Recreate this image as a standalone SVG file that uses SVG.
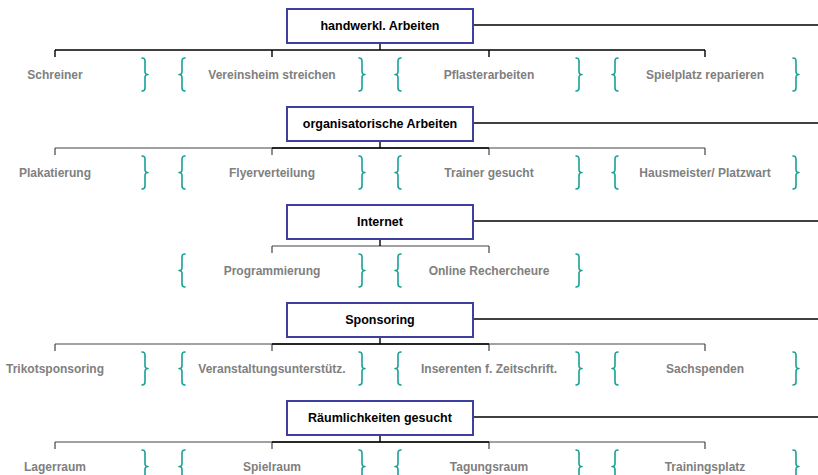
<svg xmlns="http://www.w3.org/2000/svg" width="818" height="475" viewBox="0 0 818 475">
<defs>
<style>
.box{fill:#fff;stroke:#3f3f9f;stroke-width:2}
.bt{font-family:"Liberation Sans",Arial,sans-serif;font-weight:bold;font-size:12.5px;fill:#000;text-anchor:middle}
.ct{font-family:"Liberation Sans",Arial,sans-serif;font-weight:bold;font-size:12px;fill:#808080;text-anchor:middle}
.br{fill:none;stroke:#17a096;stroke-width:1.6;stroke-linecap:round;stroke-linejoin:round}
.ln{fill:none;stroke:#444;stroke-width:1.2}
.lk{fill:none;stroke:#000;stroke-width:1.4}
</style>
<path id="rb" class="br" d="M-3,-16.5 Q0,-16.5 0,-13.5 L0,-3 Q0,0 3,0 Q0,0 0,3 L0,13.5 Q0,16.5 -3,16.5"/>
<path id="lb" class="br" d="M3,-16.5 Q0,-16.5 0,-13.5 L0,-3 Q0,0 -3,0 Q0,0 0,3 L0,13.5 Q0,16.5 3,16.5"/>
</defs>

<g id="connectors">
<line class="lk" x1="473" y1="25" x2="818" y2="25"/>
<path class="lk" d="M380,43 V50 M55,50 H705 M55,50 V57 M272,50 V57 M489,50 V57 M705,50 V57"/>
<line class="lk" x1="473" y1="123" x2="818" y2="123"/>
<path class="ln" d="M55,148 H705 M55,148 V155 M272,148 V155 M489,148 V155 M705,148 V155"/>
<path class="lk" d="M380,141 V148 M272,148 H489"/>
<line class="lk" x1="473" y1="221" x2="818" y2="221"/>
<path class="ln" d="M272,246 H489 M272,246 V253 M489,246 V253"/>
<path class="lk" d="M380,239 V246"/>
<line class="lk" x1="473" y1="319" x2="818" y2="319"/>
<path class="ln" d="M55,344 H705 M55,344 V351 M272,344 V351 M489,344 V351 M705,344 V351"/>
<path class="lk" d="M380,337 V344 M272,344 H489"/>
<line class="lk" x1="473" y1="417" x2="818" y2="417"/>
<path class="ln" d="M55,442 H705 M55,442 V449 M272,442 V449 M489,442 V449 M705,442 V449"/>
<path class="lk" d="M380,435 V442 M272,442 H489"/>
</g>

<g id="n1"><rect class="box" x="287" y="9" width="186" height="34"/><text class="bt" x="380" y="30">handwerkl. Arbeiten</text></g>
<g id="n2"><rect class="box" x="287" y="107" width="186" height="34"/><text class="bt" x="380" y="128">organisatorische Arbeiten</text></g>
<g id="n3"><rect class="box" x="287" y="205" width="186" height="34"/><text class="bt" x="380" y="226">Internet</text></g>
<g id="n4"><rect class="box" x="287" y="303" width="186" height="34"/><text class="bt" x="380" y="324">Sponsoring</text></g>
<g id="n5"><rect class="box" x="287" y="401" width="186" height="34"/><text class="bt" x="380" y="422">Räumlichkeiten gesucht</text></g>

<g id="c1a"><text class="ct" x="55" y="79">Schreiner</text><use href="#rb" x="145" y="74.5"/></g>
<g id="c1b"><use href="#lb" x="182" y="74.5"/><text class="ct" x="272" y="79">Vereinsheim streichen</text><use href="#rb" x="362" y="74.5"/></g>
<g id="c1c"><use href="#lb" x="398" y="74.5"/><text class="ct" x="489" y="79">Pflasterarbeiten</text><use href="#rb" x="579" y="74.5"/></g>
<g id="c1d"><use href="#lb" x="615" y="74.5"/><text class="ct" x="705" y="79">Spielplatz reparieren</text><use href="#rb" x="796" y="74.5"/></g>

<g id="c2a"><text class="ct" x="55" y="177">Plakatierung</text><use href="#rb" x="145" y="172.5"/></g>
<g id="c2b"><use href="#lb" x="182" y="172.5"/><text class="ct" x="272" y="177">Flyerverteilung</text><use href="#rb" x="362" y="172.5"/></g>
<g id="c2c"><use href="#lb" x="398" y="172.5"/><text class="ct" x="489" y="177">Trainer gesucht</text><use href="#rb" x="579" y="172.5"/></g>
<g id="c2d"><use href="#lb" x="615" y="172.5"/><text class="ct" x="705" y="177">Hausmeister/ Platzwart</text><use href="#rb" x="796" y="172.5"/></g>

<g id="c3a"><use href="#lb" x="182" y="270.5"/><text class="ct" x="272" y="275">Programmierung</text><use href="#rb" x="362" y="270.5"/></g>
<g id="c3b"><use href="#lb" x="398" y="270.5"/><text class="ct" x="489" y="275">Online Rechercheure</text><use href="#rb" x="579" y="270.5"/></g>

<g id="c4a"><text class="ct" x="55" y="373">Trikotsponsoring</text><use href="#rb" x="145" y="368.5"/></g>
<g id="c4b"><use href="#lb" x="182" y="368.5"/><text class="ct" x="272" y="373">Veranstaltungsunterstütz.</text><use href="#rb" x="362" y="368.5"/></g>
<g id="c4c"><use href="#lb" x="398" y="368.5"/><text class="ct" x="489" y="373">Inserenten f. Zeitschrift.</text><use href="#rb" x="579" y="368.5"/></g>
<g id="c4d"><use href="#lb" x="615" y="368.5"/><text class="ct" x="705" y="373">Sachspenden</text><use href="#rb" x="796" y="368.5"/></g>

<g id="c5a"><text class="ct" x="55" y="471">Lagerraum</text><use href="#rb" x="145" y="466.5"/></g>
<g id="c5b"><use href="#lb" x="182" y="466.5"/><text class="ct" x="272" y="471">Spielraum</text><use href="#rb" x="362" y="466.5"/></g>
<g id="c5c"><use href="#lb" x="398" y="466.5"/><text class="ct" x="489" y="471">Tagungsraum</text><use href="#rb" x="579" y="466.5"/></g>
<g id="c5d"><use href="#lb" x="615" y="466.5"/><text class="ct" x="705" y="471">Trainingsplatz</text><use href="#rb" x="796" y="466.5"/></g>
</svg>
